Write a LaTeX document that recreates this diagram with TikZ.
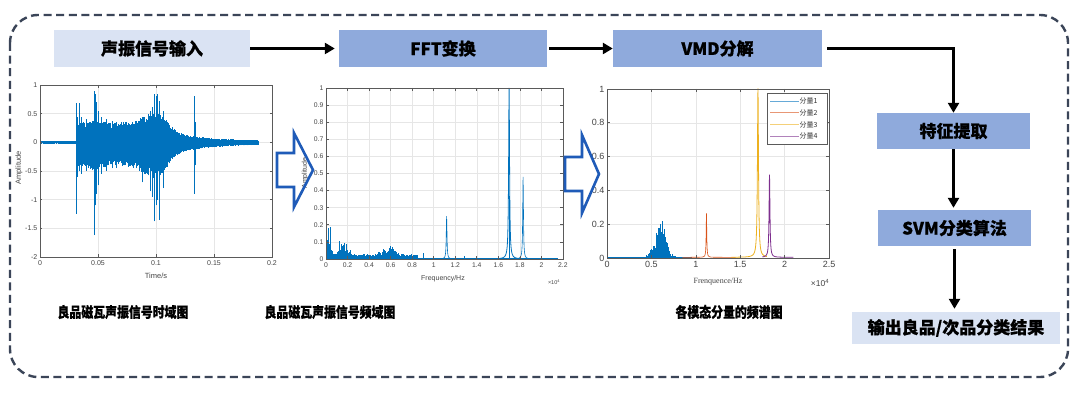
\documentclass[tikz,border=0pt]{standalone}
\usepackage{fontspec}
\setmainfont{Liberation Sans}
\newfontfamily\cjk{Noto Sans CJK SC}[BoldFeatures={FakeBold=0.6}]
\newfontfamily\ax{Liberation Sans}
\newfontfamily\axs{Liberation Serif}
\usetikzlibrary{arrows.meta}
\definecolor{bord}{HTML}{3B4558}
\definecolor{lightbox}{HTML}{DAE3F3}
\definecolor{midbox}{HTML}{8FAADC}
\definecolor{mblue}{HTML}{0072BD}
\definecolor{morange}{HTML}{D95319}
\definecolor{myellow}{HTML}{EDB120}
\definecolor{mpurple}{HTML}{7E2F8E}
\definecolor{hollow}{HTML}{1F5BB8}
\definecolor{gridc}{HTML}{E6E6E6}
\definecolor{axc}{HTML}{5A5A5A}
\definecolor{tickc}{HTML}{454545}
\tikzset{
  border/.style={draw=bord, line width=2.4pt, dash pattern=on 8pt off 4.6pt, rounded corners=28pt},
  flowbox/.style={minimum height=37pt, inner sep=0pt, font=\cjk\bfseries\fontsize{17}{17}\selectfont, text=black},
  flowarrow/.style={draw=black, line width=2.4pt, -{Triangle[length=10pt,width=11pt]}},
  caption/.style={font=\cjk\bfseries\fontsize{14.5}{15}\selectfont, text=black, inner sep=0pt, xscale=0.82},
  gridl/.style={draw=gridc, line width=0.5pt},
  axf/.style={draw=axc, line width=0.6pt},
  ytl/.style={anchor=east, inner sep=1pt, xshift=-1.5pt, text=tickc},
  xtl/.style={anchor=north, inner sep=1pt, yshift=-2.5pt, text=tickc},
  sigA/.style={draw=mblue, line width=0.7pt},
  sigB/.style={draw=mblue, line width=0.6pt},
  hollowarrow/.style={draw=hollow, line width=2.6pt, line join=miter},
  lab/.style={inner sep=0pt, text=tickc}
}
\begin{document}
\begin{tikzpicture}[x=1pt,y=-1pt,
  declare function={
    envA(\t)=0.02+(\t>31)*(\t<189)*(0.3*exp(0-max(\t-88,0)/33)+0.25*exp(0-min(((\t-101)/13)^2,40))+0.08*exp(0-min(((\t-48)/6)^2,40)));
    specB(\f)=0.006+(\f<0.85)*0.016+0.07*exp(0-min(((\f-0.03)/0.02)^2,40))+0.05*exp(0-min(((\f-0.16)/0.05)^2,40))+0.035*exp(0-min(((\f-0.58)/0.08)^2,40));
    specC(\f)=0.004+0.14*exp(0-min(((\f-0.6)/0.09)^2,40));
  }]
\pgfmathsetseed{7}
\useasboundingbox (0,0) rectangle (1080,395);
\fill[white] (0,0) rectangle (1080,395);

% dashed frame
\draw[border] (10,15) rectangle (1068,377);

% ---------------- Plot 1: time domain ----------------
\begin{scope}[shift={(40,142.3)}, x=1.16pt, y=57.3pt]
  \foreach \v in {50,100,150} \draw[gridl] (\v,-2) -- (\v,1);
  \foreach \v in {-1.5,-1,-0.5,0,0.5} \draw[gridl] (0,\v) -- (200,\v);
  \foreach \t in {0,0.25,...,188}{
    \pgfmathsetmacro\e{envA(\t)}
    \pgfmathsetmacro\ua{\e*(0.7+0.4*rnd)}
    \pgfmathsetmacro\la{0-\e*(0.85+0.45*rnd)}
    \draw[sigA] (\t,\la) -- (\t,\ua);
  }
  \foreach \t/\lo/\hi in {31/-1.25/0.68, 32/-0.6/0.45, 33.5/-0.5/0.68, 36/-0.55/0.45, 40/-0.5/0.4, 47/-1.62/0.9, 48/-1.1/0.85, 49/-0.9/0.7, 50.5/-0.75/0.55, 53/-0.55/0.45, 57/-0.5/0.4, 62/-0.45/0.38, 66/-0.45/0.35, 88/-0.7/0.45, 95/-0.85/0.55, 97/-0.95/0.62, 99/-1.38/0.85, 100/-1.1/0.8, 101.5/-1.0/0.85, 103/-1.35/0.72, 106/-0.8/0.55, 133/-0.9/0.8, 134/-0.4/0.35}
    \draw[sigA] (\t,\lo) -- (\t,\hi);
  \draw[axf] (0,-2) rectangle (200,1);
  \foreach \v in {50,100,150} {\draw[axf] (\v,-2) -- ++(0,0.05); \draw[axf] (\v,1) -- ++(0,-0.05);}
  \foreach \v in {-1.5,-1,-0.5,0,0.5} {\draw[axf] (0,\v) -- ++(2,0); \draw[axf] (200,\v) -- ++(-2,0);}
  \foreach \v/\l [count=\k] in {1/1,0.5/0.5,0/0,-0.5/-0.5,-1/-1,-1.5/-1.5,-2/-2}
    \node[ytl, font=\ax\fontsize{7}{8}\selectfont] (pay\k) at (0,\v) {\l};
  \foreach \v/\l [count=\k] in {0/0,50/0.05,100/0.1,150/0.15,200/0.2}
    \node[xtl, font=\ax\fontsize{7}{8}\selectfont] (pax\k) at (\v,-2) {\l};
\end{scope}
\node[lab, font=\ax\fontsize{7.5}{8}\selectfont] (paxl) at (156,276) {Time/s};
\node[lab, font=\ax\fontsize{7.5}{8}\selectfont, rotate=90] (payl) at (19,168) {Amplitude};

% ---------------- Plot 2: spectrum ----------------
\begin{scope}[shift={(326,259)}, x=107.7pt, y=171pt]
  \foreach \v in {0.2,0.4,...,2.01} \draw[gridl] (\v,0) -- (\v,1);
  \foreach \v in {0.1,0.2,...,0.91} \draw[gridl] (0,\v) -- (2.2,\v);
  \foreach \f in {0,0.003,...,2.15}{
    \pgfmathsetmacro\h{specB(\f)*(0.35+0.9*rnd)}
    \draw[sigB] (\f,0) -- (\f,\h);
  }
  \foreach \f/\h in {0.02/0.18, 0.04/0.19, 0.012/0.11, 0.12/0.105, 0.14/0.09, 0.17/0.095, 0.19/0.085, 0.23/0.05, 0.6/0.075, 0.62/0.07, 0.9/0.035, 1.28/0.02}
    \draw[sigB] (\f,0) -- (\f,\h);
  \draw[sigB] plot[domain=1.05:1.19, samples=71] (\x,{0.25/(1+((\x-1.12)/0.004)^2)});
  \draw[sigB, line width=0.8pt] plot[domain=1.6:1.8, samples=101] (\x,{1/(1+((\x-1.7)/0.005)^2)});
  \draw[sigB] (1.7,0) -- (1.7,0.37);
  \draw[sigB] plot[domain=1.76:1.9, samples=71] (\x,{0.48/(1+((\x-1.83)/0.004)^2)});
  \draw[axf] (0,0) rectangle (2.2,1);
  \foreach \v in {0.2,0.4,...,2.01} {\draw[axf] (\v,0) -- ++(0,0.015); \draw[axf] (\v,1) -- ++(0,-0.015);}
  \foreach \v in {0.1,0.2,...,0.91} {\draw[axf] (0,\v) -- ++(0.025,0); \draw[axf] (2.2,\v) -- ++(-0.025,0);}
  \foreach \v/\l [count=\k] in {0/0,0.1/0.1,0.2/0.2,0.3/0.3,0.4/0.4,0.5/0.5,0.6/0.6,0.7/0.7,0.8/0.8,0.9/0.9,1/1}
    \node[ytl, font=\ax\fontsize{6.8}{7}\selectfont] (pby\k) at (0,\v) {\l};
  \foreach \v/\l [count=\k] in {0/0,0.2/0.2,0.4/0.4,0.6/0.6,0.8/0.8,1/1,1.2/1.2,1.4/1.4,1.6/1.6,1.8/1.8,2/2,2.2/2.2}
    \node[xtl, font=\ax\fontsize{6.8}{7}\selectfont] (pbx\k) at (\v,0) {\l};
\end{scope}
\node[lab, font=\ax\fontsize{7}{8}\selectfont] (pbxl) at (443,279) {Frequency/Hz};
\node[lab, font=\ax\fontsize{5.5}{6}\selectfont] (pbxe) at (554,282) {×10\textsuperscript{4}};
\node[lab, font=\ax\fontsize{7}{8}\selectfont, rotate=90] (pbyl) at (305,173) {Amplitude};

% ---------------- Plot 3: VMD components ----------------
\begin{scope}[shift={(607,258)}, x=88.8pt, y=169pt]
  \foreach \v in {0.5,1,1.5,2} \draw[gridl] (\v,0) -- (\v,1);
  \foreach \v in {0.2,0.4,0.6,0.8} \draw[gridl] (0,\v) -- (2.5,\v);
  \foreach \f in {0,0.003,...,0.95}{
    \pgfmathsetmacro\h{specC(\f)*(0.35+0.9*rnd)}
    \draw[sigB] (\f,0) -- (\f,\h);
  }
  \foreach \f/\h in {0.62/0.22, 0.6/0.2, 0.58/0.18, 0.64/0.17, 0.55/0.15}
    \draw[sigB] (\f,0) -- (\f,\h);
  \draw[draw=morange, line width=0.6pt] plot[domain=0.85:1.45, samples=301] (\x,{0.004+0.26/(1+((\x-1.12)/0.004)^2)});
  \draw[draw=myellow, line width=0.8pt] plot[domain=1.4:1.8, samples=201] (\x,{0.004+1/(1+((\x-1.7)/0.007)^2)});
  \draw[draw=mpurple, line width=0.8pt] plot[domain=1.75:2.1, samples=176] (\x,{0.004+0.49/(1+((\x-1.83)/0.006)^2)});
  \draw[axf] (0,0) rectangle (2.5,1);
  \foreach \v in {0.5,1,1.5,2} {\draw[axf] (\v,0) -- ++(0,0.015); \draw[axf] (\v,1) -- ++(0,-0.015);}
  \foreach \v in {0.2,0.4,0.6,0.8} {\draw[axf] (0,\v) -- ++(0.03,0); \draw[axf] (2.5,\v) -- ++(-0.03,0);}
  \foreach \v/\l [count=\k] in {0/0,0.2/0.2,0.4/0.4,0.6/0.6,0.8/0.8,1/1}
    \node[ytl, font=\ax\fontsize{9}{10}\selectfont] (pcy\k) at (0,\v) {\l};
  \foreach \v/\l [count=\k] in {0/0,0.5/0.5,1/1,1.5/1.5,2/2,2.5/2.5}
    \node[xtl, font=\ax\fontsize{9}{10}\selectfont] (pcx\k) at (\v,0) {\l};
\end{scope}
\node[lab, font=\axs\fontsize{8}{9}\selectfont] (pcxl) at (718,282) {Frenquence/Hz};
\node[lab, font=\ax\fontsize{8.5}{9}\selectfont] (pcxe) at (820,283) {×10\textsuperscript{4}};

% legend
\node[draw=axc, fill=white, line width=0.5pt, minimum width=60pt, minimum height=51pt, inner sep=0pt] (leg) at (797,118.5) {};
\foreach \c/\n [count=\k] in {mblue/1,morange/2,myellow/3,mpurple/4}{
  \coordinate (lga\k) at (770,{89.5+11.7*\k});
  \coordinate (lgb\k) at (799,{89.5+11.7*\k});
  \draw[draw=\c, opacity=0.6, line width=0.8pt] (lga\k) -- (lgb\k);
  \node[anchor=west, inner sep=0pt, font=\cjk\fontsize{7}{8}\selectfont, text=black!80] (lgt\k) at (799.5,{89.5+11.7*\k}) {分量\n};
}

% hollow arrows
\draw[hollowarrow] (277,153) -- (294,153) -- (294,133) -- (313,170) -- (294,207) -- (294,187) -- (277,187) -- cycle;
\draw[hollowarrow] (565,157) -- (582,157) -- (582,135) -- (599,174) -- (582,213) -- (582,191) -- (565,191) -- cycle;

% captions
\node[caption] (cap1) at (123,312) {良品磁瓦声振信号时域图};
\node[caption] (cap2) at (330,312) {良品磁瓦声振信号频域图};
\node[caption] (cap3) at (729,312) {各模态分量的频谱图};

% flow boxes
\node[flowbox, fill=lightbox, minimum width=196pt] (inp) at (152,48.5) {声振信号输入};
\node[flowbox, fill=midbox, minimum width=208pt] (fft) at (443,48.5) {FFT变换};
\node[flowbox, fill=midbox, minimum width=209pt] (vmd) at (717.5,48.5) {VMD分解};
\node[flowbox, fill=midbox, minimum width=153pt, minimum height=36pt] (feat) at (953.5,131) {特征提取};
\node[flowbox, fill=midbox, minimum width=153pt, minimum height=36pt] (svm) at (954.5,228) {SVM分类算法};
\node[flowbox, fill=lightbox, minimum width=208pt, minimum height=32pt] (out) at (956,328) {输出良品/次品分类结果};

\draw[flowarrow, shorten >=4pt] (inp.east) -- (fft.west);
\draw[flowarrow, shorten <=2pt] (fft.east) -- (vmd.west);
\draw[flowarrow, shorten <=5pt] (vmd.east) -| (feat.north);
\draw[flowarrow, shorten >=2pt] (feat.south) -- (feat.south |- svm.north);
\draw[flowarrow, shorten <=3pt, shorten >=3pt] (svm.south) -- (svm.south |- out.north);
\end{tikzpicture}
\end{document}
